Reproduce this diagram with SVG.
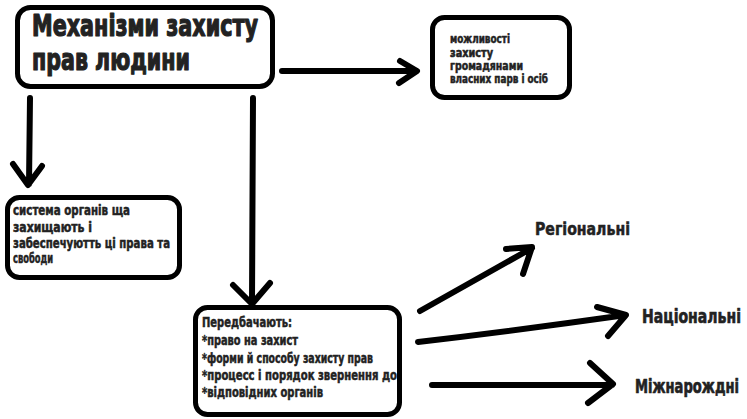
<svg xmlns="http://www.w3.org/2000/svg" width="747" height="419" viewBox="0 0 747 419">
<style>
.box{fill:#fff;stroke:#000;stroke-width:5}
.t{font-family:"Liberation Sans Narrow","DejaVu Sans Condensed","Liberation Sans",sans-serif;font-weight:bold;fill:#222;stroke:#222;stroke-width:0.5;stroke-linejoin:round}
.big{stroke-width:1.2}
.c{fill:none;stroke:#000;stroke-width:6;stroke-linecap:round;stroke-linejoin:round}
</style>
<rect width="747" height="419" fill="#fff"/>
<g id="connectors">
<path class="c" d="M282,71 L416,71 M400,61 L417,71 L399,83"/>
<path class="c" d="M30,98 L29,184 M13,164 L28,185 L42,166"/>
<path class="c" d="M253,98 L252,302 M233,285 L252,304 L270,283"/>
<path class="c" d="M420,311 L532,248 M506,249 L532,247 L523,274"/>
<path class="c" d="M418,342 Q520,330 626,315 M597,307 L626,315 L608,336"/>
<path class="c" d="M432,385 L612,385 M590,363 L613,384 L588,403"/>
</g>
<g id="main">
<rect class="box" x="17.5" y="7.5" width="255" height="79" rx="13"/>
<text class="t big" x="32" y="36" font-size="30" textLength="226" lengthAdjust="spacingAndGlyphs">Механізми захисту</text>
<text class="t big" x="32" y="70" font-size="30" textLength="158" lengthAdjust="spacingAndGlyphs">прав людини</text>
</g>
<g id="opportunities">
<rect class="box" x="432.5" y="17.5" width="137" height="80" rx="12"/>
<text class="t" font-size="12">
<tspan x="450" y="43" textLength="60" lengthAdjust="spacingAndGlyphs">можливості</tspan>
<tspan x="450" y="57" textLength="43" lengthAdjust="spacingAndGlyphs">захисту</tspan>
<tspan x="450" y="70" textLength="73" lengthAdjust="spacingAndGlyphs">громадянами</tspan>
<tspan x="450" y="83" textLength="98" lengthAdjust="spacingAndGlyphs">власних парв і осіб</tspan>
</text>
</g>
<g id="system">
<rect class="box" x="7.5" y="197.5" width="172" height="80" rx="12"/>
<text class="t" font-size="14">
<tspan x="13" y="215" textLength="117" lengthAdjust="spacingAndGlyphs">система органів ща</tspan>
<tspan x="13" y="232" textLength="79" lengthAdjust="spacingAndGlyphs">захищають і</tspan>
<tspan x="13" y="248" textLength="157" lengthAdjust="spacingAndGlyphs">забеспечуютть ці права та</tspan>
<tspan x="13" y="263" textLength="40" lengthAdjust="spacingAndGlyphs">свободи</tspan>
</text>
</g>
<g id="provide">
<rect class="box" x="195.5" y="307.5" width="204" height="107" rx="12"/>
<text class="t" font-size="14">
<tspan x="202" y="327" textLength="90" lengthAdjust="spacingAndGlyphs">Передбачають:</tspan>
<tspan x="202" y="345" textLength="96" lengthAdjust="spacingAndGlyphs">*право на захист</tspan>
<tspan x="202" y="363" textLength="171" lengthAdjust="spacingAndGlyphs">*форми й способу захисту прав</tspan>
<tspan x="202" y="380" textLength="195" lengthAdjust="spacingAndGlyphs">*процесс і порядок звернення до</tspan>
<tspan x="202" y="397" textLength="121" lengthAdjust="spacingAndGlyphs">*відповідних органів</tspan>
</text>
</g>
<g id="regional">
<text class="t" x="535" y="235" font-size="18" textLength="95" lengthAdjust="spacingAndGlyphs">Регіональні</text>
</g>
<g id="national">
<text class="t" transform="translate(642,323) scale(1,1.25)" x="0" y="0" font-size="16" textLength="99" lengthAdjust="spacingAndGlyphs">Національні</text>
</g>
<g id="international">
<text class="t" transform="translate(635,393) scale(1,1.3)" x="0" y="0" font-size="15" textLength="104" lengthAdjust="spacingAndGlyphs">Міжнарождні</text>
</g>
</svg>
